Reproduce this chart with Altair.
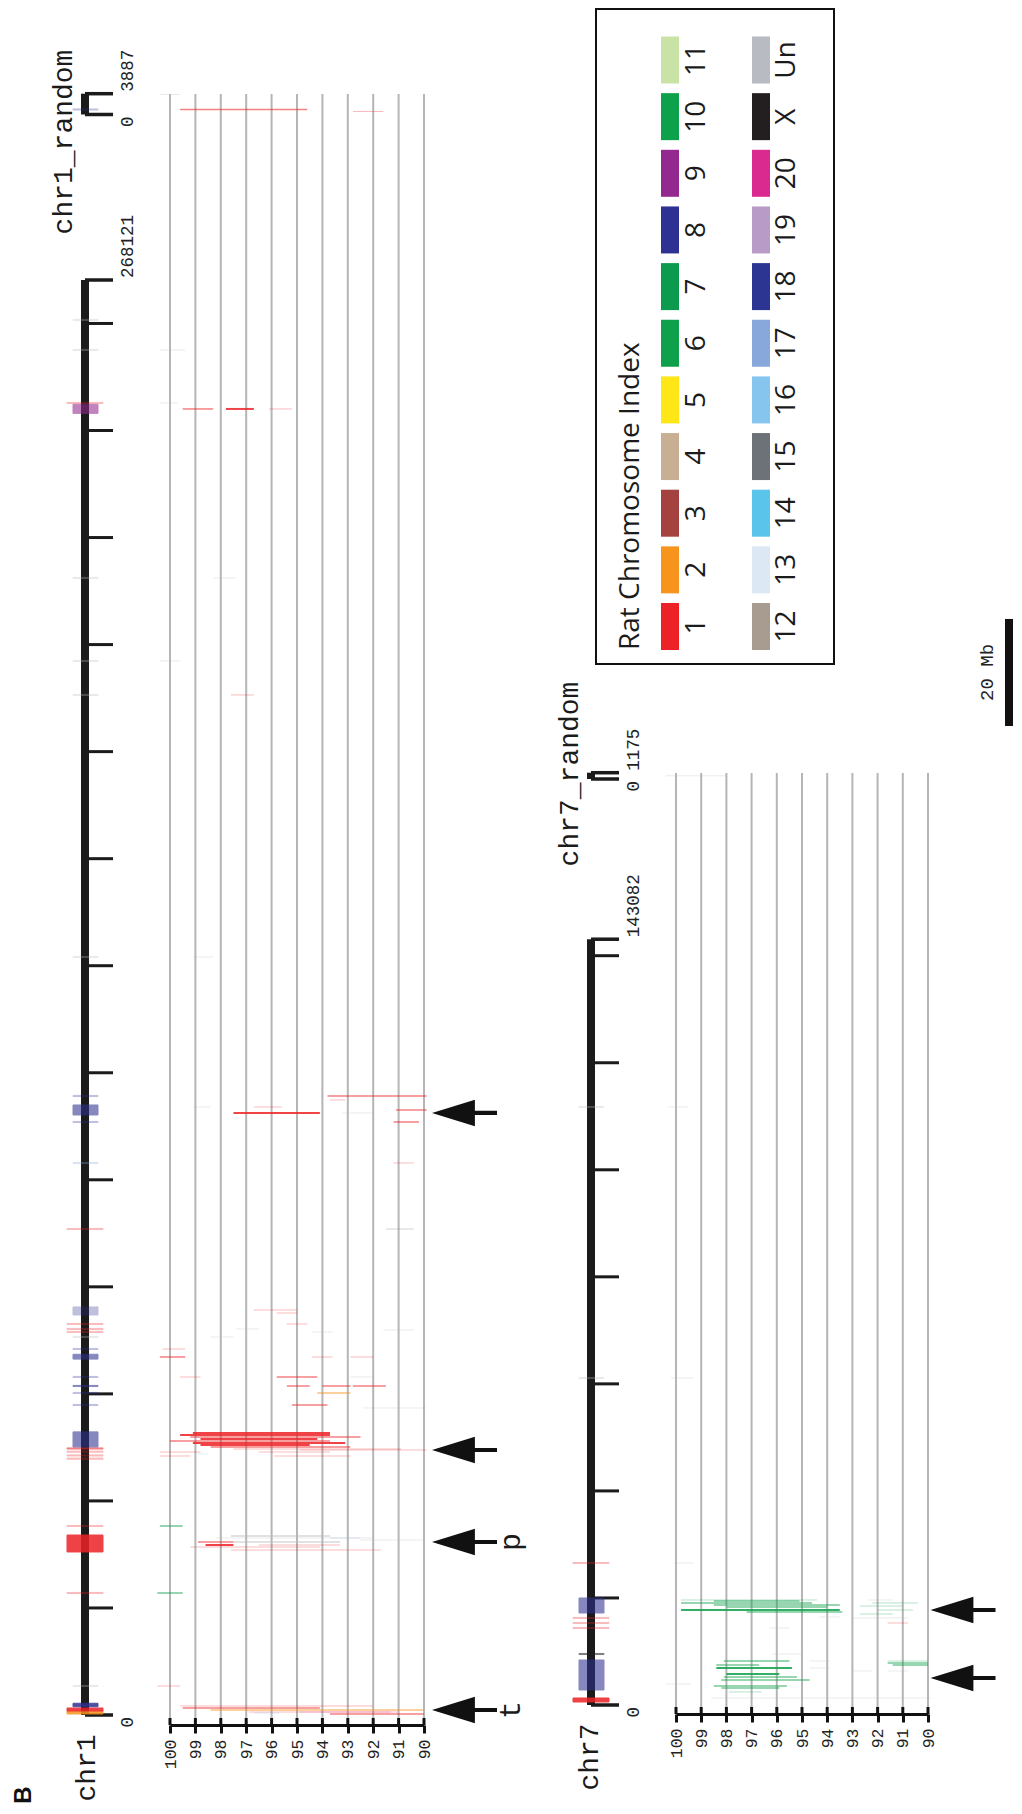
import altair as alt
import pandas as pd

# ------------------------------------------------------------------ data
chrom_names = ["chr1", "chr1_random", "chr7", "chr7_random"]
chrom_lengths = [268121, 3887, 143082, 1175]

identity_ticks = [100, 99, 98, 97, 96, 95, 94, 93, 92, 91, 90]

legend_title = "Rat Chromosome Index"
legend_labels = ["1", "2", "3", "4", "5", "6", "7", "8", "9", "10", "11",
                 "12", "13", "14", "15", "16", "17", "18", "19", "20", "X", "Un"]
legend_colors = ["#EC2227", "#F7941D", "#A3423E", "#C8AF93", "#FFE617", "#0FA04B",
                 "#0C9A4E", "#2E3192", "#93298F", "#0EA14C", "#C9E2A6",
                 "#A89C90", "#DCE9F4", "#5AC4EA", "#6C7277", "#86C6EE", "#88A8DB",
                 "#2D3592", "#B99BC8", "#DB2A8F", "#231F20", "#B8BBC1"]

# duplications: (position kb, identity from, identity to, rat partner chromosome, depth)
chr1_dups = [
    (1682, 99.6, 92.0, "1", 1), (1308, 99.5, 94.1, "1", 2), (934, 98.4, 90.0, "2", 2),
    (561, 96.9, 91.3, "1", 1), (561, 94.9, 91.0, "20", 1), (374, 96.7, 95.7, "17", 1),
    (187, 93.7, 90.0, "1", 2), (5419, 100.5, 99.6, "1", 1), (22796, 100.5, 99.5, "7", 2),
    (30830, 97.6, 91.7, "1", 1), (31391, 99.2, 94.1, "1", 1), (31765, 98.6, 97.5, "1", 3),
    (31765, 96.5, 93.3, "1", 1), (32325, 98.9, 97.5, "1", 2), (32325, 97.5, 93.3, "Un", 2),
    (32699, 92.5, 90.0, "Un", 1), (33072, 98.2, 92.0, "Un", 1), (33072, 93.7, 92.5, "17", 1),
    (33446, 97.6, 93.7, "Un", 2), (35315, 100.4, 99.5, "7", 2),
    (48394, 100.4, 99.2, "1", 1), (48394, 95.9, 92.9, "1", 1), (48768, 98.9, 98.5, "16", 1),
    (49142, 100.4, 98.8, "1", 1), (49142, 96.5, 93.7, "1", 1), (49515, 94.9, 89.9, "1", 1),
    (49702, 97.5, 90.9, "1", 1), (50076, 98.4, 92.9, "1", 2), (50450, 98.8, 94.5, "1", 3),
    (50823, 99.1, 93.1, "1", 3), (51197, 100.0, 93.7, "1", 2), (51571, 98.8, 94.2, "1", 3),
    (51944, 99.2, 92.5, "1", 2), (52318, 99.6, 93.7, "1", 3), (52692, 99.1, 93.7, "1", 3),
    (57363, 92.4, 89.9, "Un", 1), (57924, 95.2, 93.8, "1", 2), (60166, 94.2, 92.9, "2", 2),
    (61474, 95.4, 94.5, "1", 2), (61474, 94.0, 92.9, "1", 2), (61474, 92.8, 91.5, "1", 2),
    (63155, 99.6, 98.8, "1", 1), (63155, 95.8, 94.2, "1", 2), (63155, 92.9, 92.0, "Un", 1),
    (66892, 100.4, 99.4, "1", 2), (66892, 94.4, 93.6, "1", 1), (66892, 92.9, 92.0, "1", 1),
    (68387, 100.3, 99.4, "1", 1), (70629, 98.4, 97.5, "Un", 1), (71564, 94.4, 93.6, "Un", 1),
    (71937, 91.6, 90.4, "Un", 1), (72124, 97.4, 96.5, "Un", 1), (73058, 95.4, 94.6, "1", 1),
    (75114, 95.8, 95.0, "1", 1), (75674, 96.7, 95.0, "1", 1), (90809, 91.5, 90.4, "15", 1),
    (103141, 91.2, 90.4, "1", 1), (110802, 91.2, 90.2, "1", 2), (112484, 97.5, 94.1, "1", 3),
    (112484, 93.2, 92.0, "Un", 1), (113044, 91.1, 89.9, "1", 2), (113605, 96.7, 95.6, "1", 1),
    (113605, 99.1, 98.4, "Un", 1), (114913, 93.7, 93.1, "1", 1), (115660, 93.8, 89.9, "1", 2),
    (141632, 99.1, 98.3, "Un", 1), (190587, 97.6, 96.7, "1", 1), (196940, 100.4, 99.6, "Un", 1),
    (212448, 98.3, 97.4, "Un", 1), (244026, 99.5, 98.3, "1", 2), (244026, 97.8, 96.7, "1", 3),
    (244026, 96.1, 95.2, "1", 1), (245147, 100.4, 99.7, "Un", 1), (255050, 100.4, 99.4, "Un", 1),
]
chr1_random_dups = [(3737, 100.4, 99.6, "Un", 1), (934, 99.6, 94.6, "1", 2), (561, 92.8, 91.6, "1", 1)]
chr7_dups = [
    (26533, 100.1, 99.3, "Un", 1), (19619, 99.8, 94.4, "6", 1), (19432, 98.5, 95.1, "6", 2),
    (19059, 99.8, 94.6, "6", 2), (18685, 98.5, 93.5, "6", 2), (18311, 98.0, 94.0, "6", 2),
    (17751, 99.8, 93.5, "6", 3), (17377, 97.2, 93.4, "6", 2), (19619, 92.4, 91.4, "Un", 1),
    (19059, 92.2, 90.4, "6", 1), (18498, 92.7, 91.0, "6", 1), (17751, 92.0, 90.6, "6", 1),
    (17003, 92.7, 91.4, "6", 1), (16443, 94.3, 93.5, "Un", 1), (16256, 93.0, 90.8, "Un", 1),
    (15322, 91.6, 90.8, "1", 1), (14387, 96.3, 95.5, "Un", 1), (9529, 96.2, 95.0, "Un", 1),
    (8221, 98.1, 95.5, "6", 2), (8221, 94.7, 93.9, "Un", 1), (8221, 91.6, 90.0, "6", 1),
    (7848, 91.6, 90.0, "6", 2), (7474, 98.4, 96.7, "6", 2), (7474, 91.4, 90.0, "6", 2),
    (6913, 98.4, 95.4, "6", 3), (6913, 94.7, 93.9, "Un", 1), (6353, 93.0, 92.2, "Un", 1),
    (6353, 91.6, 90.8, "Un", 1), (5792, 98.0, 95.9, "6", 3), (5232, 98.1, 95.2, "6", 2),
    (4671, 98.2, 94.7, "6", 2), (3924, 100.4, 99.4, "Un", 1), (3550, 98.5, 95.6, "6", 2),
    (3176, 98.2, 95.9, "6", 2), (2429, 97.9, 96.6, "6", 1), (1308, 98.6, 89.9, "Un", 1),
    (61100, 100.2, 99.3, "Un", 1), (111736, 100.3, 99.5, "Un", 1),
]
chr7_random_dups = [(600, 100.4, 98.0, "Un", 1)]

# ideogram boxes: (start kb, end kb, partner, depth)
chr1_boxes = [
    (187, 750, "2", 3), (750, 1308, "1", 3), (1550, 2190, "8", 3), (5330, 5510, "Un", 1),
    (22700, 22900, "1", 1), (30460, 33630, "1", 3), (35220, 35410, "1", 1),
    (47800, 48000, "1", 1), (48400, 48600, "1", 1), (49100, 49300, "1", 1), (49700, 49900, "1", 2),
    (50080, 52900, "8", 2), (57820, 58020, "8", 1), (60070, 60270, "8", 1), (61380, 61580, "8", 2),
    (63060, 63260, "8", 1), (66500, 67400, "8", 2), (68290, 68490, "8", 1), (70530, 70730, "Un", 1),
    (71470, 71670, "1", 1), (72030, 72230, "1", 1), (72960, 73160, "1", 1), (74740, 76240, "8", 1),
    (90710, 90910, "1", 1), (103040, 103240, "17", 1), (110700, 110900, "8", 1),
    (112110, 113980, "8", 2), (115560, 115760, "8", 1), (141530, 141730, "Un", 1),
    (190490, 190690, "Un", 1), (196840, 197040, "Un", 1), (212350, 212550, "Un", 1),
    (243200, 244900, "9", 2), (245050, 245250, "1", 1), (254950, 255150, "Un", 1),
    (260560, 260760, "Un", 1),
]
chr1_random_boxes = [(840, 1030, "8", 1)]
chr7_boxes = [
    (560, 1308, "1", 3), (2803, 8408, "8", 2), (9430, 9630, "X", 2), (14290, 14490, "1", 1),
    (15220, 15420, "1", 1), (16160, 16360, "1", 1), (17190, 19993, "8", 2), (26430, 26630, "1", 1),
    (61000, 61200, "Un", 1), (111640, 111840, "Un", 1),
]

arrows_chr1 = [934, 32325, 49515, 112484]
arrows_chr1_tags = ["t", "p", "", ""]
arrows_chr7 = [17751, 5045]
scale_bar_kb = 20000
scale_bar_label = "20 Mb"
panel_letter = "B"

# ------------------------------------------------------------------ layout (page pixels)
PAGE = 8
W, H = 1006, 1798
KB_PX = 1435.0 / 268121.0
MONO = "Liberation Mono"
SANS = "Open Sans"


def v(p):
    return p - PAGE


CHROM_LAYOUT = {
    "chr1": {"zero": 1715.0, "xc": 85, "lab_x": 128, "name": (87, 1768), "panel": "left"},
    "chr1_random": {"zero": 114.5, "xc": 85, "lab_x": 128, "name": (64, 142), "panel": "left"},
    "chr7": {"zero": 1705.0, "xc": 591, "lab_x": 634, "name": (590, 1757), "panel": "right"},
    "chr7_random": {"zero": 779.0, "xc": 591, "lab_x": 634, "name": (570, 774), "panel": "right"},
}
PANELS = {
    "left": {"x100": 170, "x90": 424, "top": 94, "bot": 1718, "axis": 1725, "arrow": 464.5, "tag": 511},
    "right": {"x100": 676, "x90": 928, "top": 773, "bot": 1708, "axis": 1714, "arrow": 963, "tag": 1010},
}

color_scale = alt.Scale(domain=legend_labels, range=legend_colors)
depth_opacity = alt.Scale(domain=[1, 3], range=[0.3, 0.85])
depth_width = alt.Scale(domain=[1, 3], range=[1.0, 2.0])


def yscale(name):
    L = chrom_lengths[chrom_names.index(name)]
    z = v(CHROM_LAYOUT[name]["zero"])
    return alt.Scale(domain=[0, L], range=[z, z - L * KB_PX], nice=False, zero=False)


def xscale(panel):
    p = PANELS[panel]
    return alt.Scale(domain=[100, 90], range=[v(p["x100"]), v(p["x90"])], nice=False, zero=False)


layers = []

# --- identity grid + axis
for panel in ["left", "right"]:
    p = PANELS[panel]
    gdf = pd.DataFrame({"identity": identity_ticks})
    axis = alt.Axis(orient="bottom", offset=v(p["axis"]) - H, values=identity_ticks, grid=False,
                    title=None, domainColor="#111", domainWidth=3, tickColor="#111", tickWidth=3,
                    tickSize=8, labelAngle=270, labelAlign="right", labelBaseline="middle",
                    labelFont=MONO, labelFontSize=16.5, labelColor="#222", labelPadding=6,
                    format="d", labelOverlap=False, labelFlush=False)
    layers.append(alt.Chart(gdf).mark_rule(color="#b5b5b5", strokeWidth=2).encode(
        x=alt.X("identity:Q", scale=xscale(panel), axis=axis),
        y=alt.value(v(p["top"])), y2=alt.value(v(p["bot"]))))
    layers.append(alt.Chart(gdf).mark_rule(color="#111", strokeWidth=3).encode(
        x=alt.X("identity:Q", scale=xscale(panel), axis=None),
        y=alt.value(v(p["axis"] - 7)), y2=alt.value(v(p["axis"]))))

# --- ideograms
dups = {"chr1": chr1_dups, "chr1_random": chr1_random_dups, "chr7": chr7_dups,
        "chr7_random": chr7_random_dups}
boxes = {"chr1": chr1_boxes, "chr1_random": chr1_random_boxes, "chr7": chr7_boxes}

for name, L in zip(chrom_names, chrom_lengths):
    lay = CHROM_LAYOUT[name]
    xc = lay["xc"]
    ys = yscale(name)
    layers.append(alt.Chart(pd.DataFrame({"start": [0], "end": [L]})).mark_rule(
        color="#1b1b1b", strokeWidth=8, strokeCap="butt").encode(
        x=alt.value(v(xc)), y=alt.Y("start:Q", scale=ys, axis=None), y2="end:Q"))
    ends = pd.DataFrame({"p": [0, L], "lab": ["0", str(L)]})
    layers.append(alt.Chart(ends).mark_rule(color="#1b1b1b", strokeWidth=3.5).encode(
        x=alt.value(v(xc)), x2=alt.value(v(xc + 28)), y=alt.Y("p:Q", scale=ys, axis=None)))
    tick_pos = list(range(20000, L, 20000))
    if tick_pos:
        layers.append(alt.Chart(pd.DataFrame({"p": tick_pos})).mark_rule(
            color="#1b1b1b", strokeWidth=3).encode(
            x=alt.value(v(xc + 3)), x2=alt.value(v(xc + 28)), y=alt.Y("p:Q", scale=ys, axis=None)))
    layers.append(alt.Chart(ends.iloc[[0]]).mark_text(
        angle=270, align="right", baseline="middle", font=MONO, fontSize=17.5, color="#222", dx=-2).encode(
        x=alt.value(v(lay["lab_x"])), y=alt.Y("p:Q", scale=ys, axis=None), text="lab:N"))
    layers.append(alt.Chart(ends.iloc[[1]]).mark_text(
        angle=270, align="left", baseline="middle", font=MONO, fontSize=17.5, color="#222", dx=2).encode(
        x=alt.value(v(lay["lab_x"])), y=alt.Y("p:Q", scale=ys, axis=None), text="lab:N"))
    nx, ny = lay["name"]
    layers.append(alt.Chart(pd.DataFrame({"n": [name]})).mark_text(
        angle=270, align="center", baseline="middle", font=MONO, fontSize=28, color="#1b1b1b").encode(
        x=alt.value(v(nx)), y=alt.value(v(ny)), text="n:N"))

    # duplication boxes on the ideogram
    if name in boxes:
        bdf = pd.DataFrame(boxes[name], columns=["start", "end", "partner", "depth"])
        for wide, (l, r) in [(True, (xc - 18, xc + 18)), (False, (xc - 12, xc + 13))]:
            sub = bdf[bdf["partner"].isin(["1", "2"]) == wide]
            if len(sub) == 0:
                continue
            layers.append(alt.Chart(sub).mark_rect(strokeWidth=1).encode(
                x=alt.value(v(l)), x2=alt.value(v(r)),
                y=alt.Y("start:Q", scale=ys, axis=None), y2="end:Q",
                color=alt.Color("partner:N", scale=color_scale, legend=None),
                stroke=alt.Stroke("partner:N", scale=color_scale, legend=None),
                opacity=alt.Opacity("depth:Q", scale=depth_opacity, legend=None)))

    # dot-plot segments
    ddf = pd.DataFrame(dups[name], columns=["pos", "id_a", "id_b", "partner", "depth"])
    layers.append(alt.Chart(ddf).mark_rule(strokeCap="butt").encode(
        x=alt.X("id_a:Q", scale=xscale(lay["panel"]), axis=None), x2="id_b:Q",
        y=alt.Y("pos:Q", scale=ys, axis=None),
        color=alt.Color("partner:N", scale=color_scale, legend=None),
        opacity=alt.Opacity("depth:Q", scale=depth_opacity, legend=None),
        size=alt.Size("depth:Q", scale=depth_width, legend=None)))

# --- arrows
ARROW = "M -1 0 L 0.32 -0.41 L 0.32 -0.065 L 1 -0.065 L 1 0.065 L 0.32 0.065 L 0.32 0.41 Z"
for name, pos, tags in [("chr1", arrows_chr1, arrows_chr1_tags), ("chr7", arrows_chr7, ["", ""])]:
    p = PANELS[CHROM_LAYOUT[name]["panel"]]
    adf = pd.DataFrame({"pos": pos, "tag": tags})
    layers.append(alt.Chart(adf).mark_point(shape=ARROW, filled=True, color="#111", opacity=1,
                                            size=65 ** 2, strokeWidth=0).encode(
        x=alt.value(v(p["arrow"])), y=alt.Y("pos:Q", scale=yscale(name), axis=None)))
    layers.append(alt.Chart(adf).transform_filter("datum.tag != ''").mark_text(
        angle=270, align="center", baseline="middle", font=MONO, fontSize=30, color="#1b1b1b").encode(
        x=alt.value(v(p["tag"])), y=alt.Y("pos:Q", scale=yscale(name), axis=None), text="tag:N"))

# --- legend
leg = pd.DataFrame({"label": legend_labels})
leg["col"] = [i // 11 for i in range(len(legend_labels))]
leg["row"] = [i % 11 for i in range(len(legend_labels))]
row_scale = alt.Scale(domain=[0, 10], range=[v(626.5), v(60)], nice=False, zero=False)
SWATCH = "M -0.383 -1 L 0.383 -1 L 0.383 1 L -0.383 1 Z"
layers.append(alt.Chart(pd.DataFrame({"a": [0]})).mark_rect(
    fillOpacity=0, stroke="#111", strokeWidth=2).encode(
    x=alt.value(v(596)), x2=alt.value(v(834)), y=alt.value(v(9)), y2=alt.value(v(664))))
layers.append(alt.Chart(leg).mark_point(shape=SWATCH, filled=True, opacity=1, size=47 ** 2,
                                        strokeWidth=0).encode(
    x=alt.X("col:Q", scale=alt.Scale(domain=[0, 1], range=[v(670), v(761)], nice=False, zero=False), axis=None),
    y=alt.Y("row:Q", scale=row_scale, axis=None),
    color=alt.Color("label:N", scale=color_scale, legend=None)))
layers.append(alt.Chart(leg).mark_text(angle=270, align="center", baseline="middle", font=SANS,
                                       fontSize=28, color="#1b1b1b").encode(
    x=alt.X("col:Q", scale=alt.Scale(domain=[0, 1], range=[v(697), v(787)], nice=False, zero=False), axis=None),
    y=alt.Y("row:Q", scale=row_scale, axis=None), text="label:N"))
layers.append(alt.Chart(pd.DataFrame({"t": [legend_title]})).mark_text(
    angle=270, align="left", baseline="middle", font=SANS, fontSize=28, color="#1b1b1b").encode(
    x=alt.value(v(631)), y=alt.value(v(650)), text="t:N"))

# --- scale bar
sb = pd.DataFrame({"start": [0], "end": [scale_bar_kb], "mid": [scale_bar_kb / 2], "lab": [scale_bar_label]})
sb_scale = alt.Scale(domain=[0, scale_bar_kb], range=[v(726), v(726) - scale_bar_kb * KB_PX], nice=False, zero=False)
layers.append(alt.Chart(sb).mark_rule(color="#111", strokeWidth=8, strokeCap="butt").encode(
    x=alt.value(v(1009)), y=alt.Y("start:Q", scale=sb_scale, axis=None), y2="end:Q"))
layers.append(alt.Chart(sb).mark_text(angle=270, align="center", baseline="middle", font=MONO,
                                      fontSize=19, color="#222").encode(
    x=alt.value(v(987)), y=alt.Y("mid:Q", scale=sb_scale, axis=None), text="lab:N"))

# --- panel letter
layers.append(alt.Chart(pd.DataFrame({"t": [panel_letter]})).mark_text(
    angle=270, align="center", baseline="middle", font="Liberation Sans", fontWeight="bold",
    fontSize=24, color="#111").encode(x=alt.value(v(24)), y=alt.value(v(1795)), text="t:N"))

chart = alt.layer(*layers).resolve_scale(x="independent", y="independent").properties(
    width=W, height=H, autosize=alt.AutoSizeParams(type="none"), padding=0,
    background="white").configure_view(stroke=None)

chart.save("out.html", embed_options={"renderer": "svg", "actions": False})
